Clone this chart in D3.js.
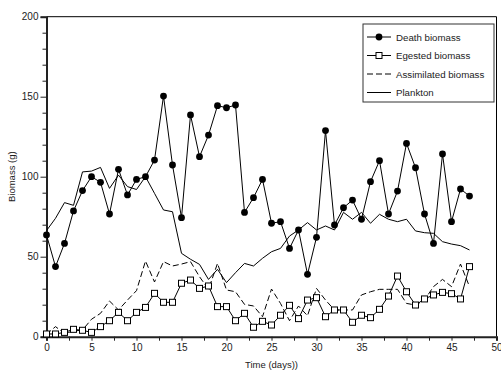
<!DOCTYPE html>
<html>
<head>
<meta charset="utf-8">
<script src="https://cdn.jsdelivr.net/npm/d3@7"></script>
<style>
  body { margin: 0; background: #fff; }
  svg { font-family: "Liberation Sans", Arial, Helvetica, sans-serif; }
</style>
</head>
<body>
<svg id="chart" width="501" height="372"></svg>
<script>
const days = [0, 1, 2, 3, 4, 5, 6, 7, 8, 9, 10, 11, 12, 13, 14, 15, 16, 17, 18, 19, 20, 21, 22, 23,
  24, 25, 26, 27, 28, 29, 30, 31, 32, 33, 34, 35, 36, 37, 38, 39, 40, 41, 42, 43, 44, 45, 46, 47];

const deathBiomass = [63.6, 43.8, 58.3, 78.6, 91.3, 100, 96.5, 76.7, 104.6, 88.6, 98.3, 100, 110.4, 150.4,
  107.3, 74.4, 138.6, 112.5, 126, 144.4, 143.1, 144.8, 77.7, 86.9, 98.3, 70.9, 71.9, 55.2, 66.7, 39,
  62.1, 128.8, 69.8, 80.6, 85.4, 73.4, 96.9, 110, 76.7, 91, 120.8, 105.6, 76.7, 58.3, 114.2, 71.9, 92.3, 87.9];

const egestedBiomass = [1.7, 1.7, 2.7, 4.6, 4, 2.7, 6.3, 10, 15.2, 10, 15.2, 18.3, 27.1, 21.5, 21.5, 33.4,
  35.4, 30.2, 31.7, 18.8, 18.8, 10, 14.6, 5.9, 9.6, 7.3, 13.4, 19.6, 11.3, 22.9, 24.4, 12.5, 16.7, 16.7,
  9, 13.4, 11.9, 17.1, 25.4, 37.9, 28.1, 19.8, 23.6, 26.1, 27.7, 26.9, 23.6, 43.8];

const assimilatedBiomass = [1.5, 6.3, 2, 3.5, 4.2, 10.9, 14.6, 22.3, 16.7, 22.9, 28.8, 47.3, 34.2, 46.9,
  44.2, 45.4, 46.9, 37.5, 29.6, 45.8, 29.2, 28.1, 20.2, 19.2, 12.5, 29.8, 20.8, 10, 19.2, 13.1, 30.2, 22.9,
  16.7, 16.7, 16.7, 26.1, 28.1, 29.6, 29.6, 29.6, 20.8, 19.8, 22.9, 31.3, 35.8, 31.3, 45.4, 31.3];

const plankton = [66.3, 74, 83.8, 82.1, 103, 103.5, 105.8, 92.7, 101, 93.8, 92, 100, 89.6, 79.2, 78.1,
  52.1, 48.4, 45.2, 35.8, 42.1, 33.8, 40, 45.8, 44.2, 49, 53.1, 55.2, 62.9, 66.7, 71.3, 66.7, 69.2, 66.7,
  77.7, 73.4, 77.7, 70.9, 76.5, 73.4, 71.9, 73.4, 66.1, 65, 64.6, 59.4, 57.9, 56.9, 54.2];

const xTickLabels = [0, 5, 10, 15, 20, 25, 30, 35, 40, 45, 50];
const xMinorTicks = [2.5, 7.5, 12.5, 17.5, 22.5, 27.5, 32.5, 37.5, 42.5, 47.5];
const yTickLabels = [0, 50, 100, 150, 200];
const yMinorTicks = [10, 20, 30, 40, 60, 70, 80, 90, 110, 120, 130, 140, 160, 170, 180, 190];

const legendNames = ['Death biomass', 'Egested biomass', 'Assimilated biomass', 'Plankton'];

const margin = { top: 16.7, right: 4.5, bottom: 35.3, left: 46.5 };
const width = 501 - margin.left - margin.right;
const height = 372 - margin.top - margin.bottom;

const svg = d3.select('#chart');
const g = svg.append('g').attr('transform', `translate(${margin.left},${margin.top})`);

const x = d3.scaleLinear().domain([0, 50]).range([0, width]);
const y = d3.scaleLinear().domain([0, 200]).range([height, 0]);

// frame (top + right)
g.append('path')
  .attr('d', `M0,0H${width}V${height}`)
  .attr('fill', 'none')
  .attr('stroke', '#000')
  .attr('stroke-width', 1);

// x axis
const xAxis = g.append('g').attr('transform', `translate(0,${height})`);
xAxis.call(d3.axisBottom(x).tickValues(xTickLabels).tickSize(4).tickPadding(3).tickFormat(d3.format('d')));
xAxis.append('g').call(d3.axisBottom(x).tickValues(xMinorTicks).tickSize(4).tickFormat(''))
  .select('.domain').remove();

// y axis
const yAxis = g.append('g');
yAxis.call(d3.axisLeft(y).tickValues(yTickLabels).tickSize(6).tickPadding(2).tickFormat(d3.format('d')));
yAxis.append('g').call(d3.axisLeft(y).tickValues(yMinorTicks).tickSize(4).tickFormat(''))
  .select('.domain').remove();

svg.selectAll('.domain').attr('stroke', '#222').attr('stroke-width', 2);
svg.selectAll('.tick line').attr('stroke', '#222');
svg.selectAll('.tick text').attr('font-size', 10).attr('fill', '#222')
  .attr('font-family', '"Liberation Sans", Arial, sans-serif');

// axis titles
svg.append('text')
  .attr('x', margin.left + width / 2)
  .attr('y', 368)
  .attr('text-anchor', 'middle')
  .attr('font-size', 9.5)
  .attr('fill', '#222')
  .text('Time (days))');

svg.append('text')
  .attr('transform', `translate(15,${margin.top + height / 2}) rotate(-90)`)
  .attr('text-anchor', 'middle')
  .attr('font-size', 9.5)
  .attr('fill', '#222')
  .text('Biomass (g)');

const line = d3.line().x((d, i) => x(days[i])).y(d => y(d));

// plankton
g.append('path').datum(plankton)
  .attr('d', line).attr('fill', 'none').attr('stroke', '#000').attr('stroke-width', 1);

// assimilated
g.append('path').datum(assimilatedBiomass)
  .attr('d', line).attr('fill', 'none').attr('stroke', '#000').attr('stroke-width', 1)
  .attr('stroke-dasharray', '6,3');

// egested
g.append('path').datum(egestedBiomass)
  .attr('d', line).attr('fill', 'none').attr('stroke', '#000').attr('stroke-width', 1);
g.append('g').selectAll('rect')
  .data(egestedBiomass)
  .join('rect')
  .attr('x', (d, i) => x(days[i]) - 3)
  .attr('y', d => y(d) - 3)
  .attr('width', 6)
  .attr('height', 6)
  .attr('fill', '#fff')
  .attr('stroke', '#000')
  .attr('stroke-width', 1);

// death
g.append('path').datum(deathBiomass)
  .attr('d', line).attr('fill', 'none').attr('stroke', '#000').attr('stroke-width', 1);
g.append('g').selectAll('circle')
  .data(deathBiomass)
  .join('circle')
  .attr('cx', (d, i) => x(days[i]))
  .attr('cy', d => y(d))
  .attr('r', 3.4)
  .attr('fill', '#000');

// legend
const legend = svg.append('g').attr('transform', 'translate(363,24)');
legend.append('rect')
  .attr('width', 131).attr('height', 78)
  .attr('fill', '#fff').attr('stroke', '#333').attr('stroke-width', 1);

legendNames.forEach((name, i) => {
  const row = legend.append('g').attr('transform', `translate(0,${13 + i * 18.5})`);
  const ln = row.append('line')
    .attr('x1', 4).attr('x2', 28).attr('y1', 0).attr('y2', 0)
    .attr('stroke', '#000').attr('stroke-width', 1);
  if (i === 2) ln.attr('stroke-dasharray', '6,3');
  if (i === 0) row.append('circle').attr('cx', 16).attr('cy', 0).attr('r', 3.4).attr('fill', '#000');
  if (i === 1) row.append('rect').attr('x', 13).attr('y', -3).attr('width', 6).attr('height', 6)
    .attr('fill', '#fff').attr('stroke', '#000');
  row.append('text')
    .attr('x', 33).attr('y', 3.5)
    .attr('font-size', 9.7)
    .attr('fill', '#222')
    .text(name);
});
</script>
</body>
</html>
